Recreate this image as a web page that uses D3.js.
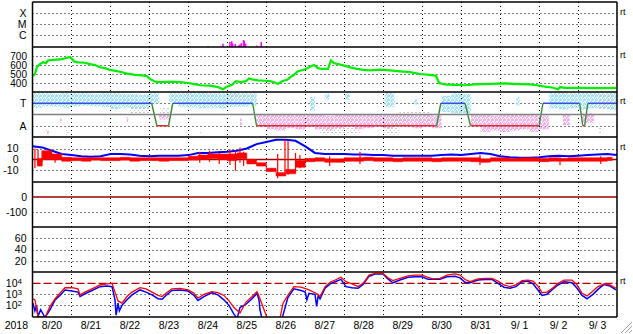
<!DOCTYPE html>
<meta charset="utf-8">
<style>
body { margin: 0; background: #fff; }
text { font-family: "Liberation Sans", Arial, sans-serif; font-size: 10.5px; fill: #000; }
.rt { font-size: 9px; }
.tight text { font-size: 10px; }
</style>
<svg width="633" height="334"></svg>
<script src="https://d3js.org/d3.v7.min.js"></script>
<script>
// ---- data (time in hours since 2018-08-20 00:00) ----
var flareT = [108.1, 117.3, 121.6, 122.7, 123.3, 124.9, 126.9, 127.8, 128.6, 130, 130.4, 131.3, 138.1, 140.9];
var flareV = [8.7e-8, 1.45e-7, 2.1e-7, 2.4e-7, 1.45e-7, 1.35e-7, 1.0e-7, 1.2e-7, 1.6e-7, 3.2e-7, 2.6e-7, 1.45e-7, 9.5e-8, 2.1e-7];

var speedT = [0.3,1.5,2.8,4.6,6.5,8.3,9.5,12,15.1,18.2,21.2,23.1,24.3,25.6,28,32.3,35.4,38.5,41.6,44.7,47.7,52.7,58.2,63.1,67.4,70.5,72.4,75.4,78.5,84.7,90.8,95.8,98.9,103.2,109.3,114.2,117.3,119.8,122.9,125.3,128.4,131.5,133.3,135.2,138.9,143.2,146.3,149.4,151.2,153.7,156.8,159.2,161,163.5,166.6,169,171.5,173.4,175.8,178.3,182,183.8,185.7,188.1,192.5,195.6,199.2,203.6,207.8,214,220.2,226.3,232.5,238.7,244.8,248.5,250.4,254,260.2,266.4,272.5,281.8,291,300.2,306.4,310.7,315.6,319.9,323.7,324.9,328,337.2,349.5,359.4];
var speedV = [478,500,581,610,630,620,650,656,660,665,680,690,670,640,630,625,610,600,575,565,545,530,505,490,485,475,445,415,410,415,410,400,390,375,370,355,330,360,380,420,410,420,450,440,430,425,420,405,390,420,435,470,490,530,545,560,585,600,565,556,556,650,620,611,590,574,560,545,540,548,540,530,520,500,490,480,400,385,380,375,385,390,395,388,385,375,360,350,330,355,345,345,342,345];

// magnetic sector: +1 toward, -1 away
var sectorT = [0, 73.4, 76.6, 83.8, 86.4, 135.6, 138, 248.9, 251.5, 266.4, 269.8, 312, 314.4, 337, 338.9, 340.1, 342, 360];
var sectorV = [1, 1, -1, -1, 1, 1, -1, -1, 1, 1, -1, -1, 1, 1, -1, -1, 1, 1];

// field angle spread per 6-hour bin (degrees)
var phiLo = [235,245,240,235,245,250,245,240,225,235,225,230,270,140,280,240,235,230,235,230,240,240,250,90,
             60,50,70,60,80,60,50,70,80,60,70,80,70,80,90,70,80,70,200,190,190,90,40,50,40,50,60,40,60,230,220,230,220,230,230,220];
var phiHi = [350,350,345,350,350,350,345,350,350,345,345,340,350,178,350,350,350,355,350,350,355,350,350,180,
             178,176,176,180,176,178,170,176,175,178,176,178,176,180,176,175,176,170,330,350,345,175,176,170,176,178,176,175,170,355,355,350,355,355,350,355];
// extra patches: [start hour, end hour, lo, hi]
var phiExtra = [[171,174,210,320],[180,183,300,345],[192.5,195.6,300,345],[217,223,240,355],[235,237,260,300],[298,300,250,320],
                [17,18,110,150],[9,10,15,50],[58,59,120,160],[127.8,129,95,150],[326.7,331,95,175],[338.5,346,110,190]];
var phiGray = [[60,72,170,232],[7,10,20,60],[20,23,20,60],[78.5,84.7,170,232],[121.6,137,300,350],[177,201.7,20,80],
               [217,226,20,190],[226,245,145,205],[269.5,275.6,160,192],[347.7,360,220,350],[349,351,20,80],[103,104,20,55]];

// IMF |B| at 6-hour steps, Bz band per 6-hour bin (nT)
var btV = [12,11,8,5,4,3,2.5,3,5,5,4.5,3.5,3,3.5,3.5,3.5,4,6,6,6.5,7,8,10,14,16,18,18,17,12,6,5,5,5,4.5,4.5,4,4,3.5,3.5,3.5,3.5,3.5,4,4.5,4,5,6,5,3,2,1.5,1.5,2,3,3.5,3,3.5,4,4.5,5,4];
var bzLo = [-6,0,0,-1.5,-1,-1.5,-0.5,-1,-1,-0.5,-1.5,-1,-1,-1.5,-1,-1,-0.5,0,1,0,-1,1,-4,-6,-11,-15,-13,-7,-2,-1.5,
            -2.5,-2.5,-1.5,-1.5,-1,-1.5,-1.5,-2,-1.5,-1.5,-1.5,-2,-1.5,-1.5,-1.5,-2,-2.5,-1.5,-1.5,-1.5,-1.5,-1.5,-2,-1.5,-1.5,-1.5,-1.5,-1.5,-1.5,-1];
var bzHi = [1,8,5,2,1.5,1.5,1.5,1.5,1.5,2,1.5,1.5,1.5,1.5,1.5,1.5,3,4,5,5,5,6,0,-3,-8,-12,-9,-1,1,1.5,
            0.5,0.5,1.5,1.5,2,1.5,1.5,1,1.5,1.5,1.5,1,1.5,1.5,1.5,1.5,0.5,1.5,1.5,1,1.5,1.5,1,1.5,1,1.5,1.5,1.5,1.5,2];
var spikeT  = [1.5,3.4,5.9,13.9,103,109,115,121.6,125,127.8,130,151,155.5,157.4,162,164.7,183,201.7,275.6,324.9,350];
var spikeLo = [-8,-4,-2,-3,-3,-2,-4,-5,-10,-3,-6,-17,-12,-14,-12,-8,-6,-4,-5,-5,-4];
var spikeHi = [10,9,8,4,7,8,6,9,8,11,7,5,18,17,6,4,3,7,4,2,3];

// >2 MeV electron flux, log10
var redT = [0.3,1.5,3.4,7.7,10.8,13.9,16.9,20,24.3,28,29.3,32.3,36.6,41.6,45.9,49,50.8,52.7,55.1,58.2,61.3,66.2,69.9,73.6,77.3,79.8,82.2,85.8,90.8,95.8,99.5,101.9,105.6,110.5,114.2,117.9,121,124.1,127.8,131.5,135.2,138.3,140.1,142.6,144.4,149.4,152.4,154.3,157.3,161,165.4,170.3,174.6,177.1,180.2,183.3,186.4,190,193.1,196.8,200.5,203.6,207.3,211,215.9,218.9,222,226.3,231.3,235.6,239.9,243.6,246.7,251,255.3,260.2,263.3,266.4,269.5,274.4,278.7,283,286.7,290.4,294.1,297.8,301.5,305.2,308.3,311.3,313.8,316.9,320.6,323.7,327.4,332.3,335.4,338.5,341.5,345.2,348.3,352,355.7,359.4];
var redV = [2.6,2.5,1.0,0.9,1.9,2.6,3.1,3.6,3.6,3.5,2.95,3.2,3.5,3.85,3.95,4.0,3.2,2.4,2.2,2.8,3.2,3.6,3.5,3.2,2.9,2.8,3.1,3.5,3.55,3.4,3.1,2.65,3.0,3.25,3.15,2.9,2.4,1.8,1.3,2.3,2.8,3.25,2.6,1.6,0.9,0.5,0.8,2.2,2.9,3.7,3.65,3.4,3.1,2.8,3.7,4.1,4.3,4.55,4.15,3.95,3.7,4.0,4.75,4.9,4.9,4.5,4.25,4.45,4.67,4.75,4.75,4.55,4.4,4.45,4.75,4.85,4.75,4.35,4.15,4.4,4.45,4.45,4.2,3.85,3.7,3.85,4.25,4.3,4.2,3.75,3.15,3.2,3.6,4.0,4.3,4.3,3.85,3.1,2.85,3.3,3.7,3.95,3.85,3.55];
var blueT = [0.3,1.5,2.5,3.4,5,7.7,10.8,13.9,16.9,20,24.3,28,29.3,32.3,36.6,41.6,45.9,49,50.8,51.5,52.7,53.5,55.1,58.2,61.3,66.2,69.9,73.6,77.3,79.8,82.2,85.8,90.8,95.8,99.5,101.9,105.6,110.5,114.2,117.9,121,124.1,126,127.8,131.5,135.2,138.3,139.5,140.1,141.5,150,153.5,155,157.3,161,165.4,168,169,170.3,174,175,176,177.1,180.2,183.3,186.4,190,193.1,196.8,200.5,203.6,207.3,211,215.9,218.9,222,226.3,231.3,235.6,239.9,243.6,246.7,251,255.3,260.2,263.3,266.4,269.5,274.4,278.7,283,286.7,290.4,294.1,297.8,301.5,305.2,308.3,311.3,313.8,316.9,320.6,323.7,327.4,332.3,335.4,338.5,341.5,345.2,348.3,352,355.7,359.4];
var blueV = [2.2,1.5,2.0,1.0,1.6,0.9,1.6,2.5,2.9,3.4,3.3,3.2,2.8,3.05,3.35,3.7,3.75,3.7,2.5,1.1,2.2,1.5,2.0,2.5,2.95,3.4,3.2,2.95,2.6,2.55,2.9,3.35,3.4,3.3,2.9,2.45,2.8,3.15,2.95,2.5,2.0,1.2,0.8,1.8,2.1,2.6,3.1,2.5,1.6,0.7,0.5,0.7,1.5,2.7,3.5,3.35,3.2,2.5,3.1,3.0,1.9,2.9,2.6,3.55,3.95,4.15,4.36,3.7,3.6,3.55,3.9,4.65,4.85,4.85,4.4,4.05,4.3,4.55,4.6,4.6,4.36,4.36,4.36,4.6,4.65,4.5,4.1,4.06,4.3,4.35,4.35,4.0,3.65,3.55,3.7,4.15,4.2,3.95,3.4,2.9,3.0,3.5,3.85,4.15,4.05,3.55,2.9,2.6,3.0,3.45,3.9,3.75,3.4];

var startDate = new Date(2018, 7, 20);
var nDays = 15;

// ---- layout ----
var svg = d3.select("svg");
var x0 = 32.5, x1 = 617;
var tops = [2, 47, 92, 137, 182, 227, 272], ph = 45, bottom = 317;

var x = d3.scaleLinear().domain([0, nDays * 24]).range([x0, x1]);
var yX = d3.scaleLog().domain([7e-8, 1.15e-3]).range([47, 2]);
var ySp = d3.scaleLinear().domain([300, 800]).range([92, 47]);
var yPhi = d3.scaleLinear().domain([0, 360]).range([137, 92]);
var yB = d3.scaleLinear().domain([-20.5, 20.5]).range([182, 137]);
var yDst = d3.scaleLinear().domain([-200, 100]).range([227, 182]);
var yKp = d3.scaleLinear().domain([0, 80]).range([272, 227]);
var yE = d3.scaleLog().domain([Math.pow(10, 0.94), Math.pow(10, 5.03)]).range([317, 272]);

svg.append("rect").attr("width", 633).attr("height", 334).attr("fill", "#fff");

var defs = svg.append("defs");
tops.forEach(function(t, i) {
  defs.append("clipPath").attr("id", "clip" + i)
    .append("rect").attr("x", x0).attr("y", t).attr("width", x1 - x0).attr("height", ph);
});
// speckle textures for the angle scatter
function speck(id, color, cells) {
  var p = defs.append("pattern").attr("id", id).attr("width", 4).attr("height", 4)
    .attr("patternUnits", "userSpaceOnUse");
  cells.forEach(function(r) {
    p.append("rect").attr("x", r[0]).attr("y", r[1]).attr("width", r[2]).attr("height", r[3]).attr("fill", color);
  });
}
var dense = [[0,0,2,1],[2,1,2,1],[0,2,1,2],[3,3,1,1],[1,3,1,1],[3,0,1,1],[2,2,1,1]];
speck("spC", "#a0e2fa", dense);
speck("spP", "#f4aef0", dense);
speck("spG", "#c8c8c8", [[0,0,1,1],[2,2,1,1],[3,0,1,1]]);

function hline(y, color, w, dash) {
  svg.append("line").attr("x1", x0).attr("x2", x1).attr("y1", y).attr("y2", y)
    .attr("stroke", color).attr("stroke-width", w).attr("stroke-dasharray", dash || null);
}

// dotted grid
var grid = svg.append("g").attr("stroke", "#000").attr("stroke-width", 1).attr("stroke-dasharray", "1,3");
d3.range(1, nDays).forEach(function(d) {
  grid.append("line").attr("x1", Math.round(x(d * 24)) + 0.5).attr("x2", Math.round(x(d * 24)) + 0.5)
    .attr("y1", 2).attr("y2", bottom);
});
function hgrid(scale, vals) {
  vals.forEach(function(v) {
    var y = Math.round(scale(v)) + 0.5;
    grid.append("line").attr("x1", x0).attr("x2", x1).attr("y1", y).attr("y2", y);
  });
}
hgrid(yX, [1e-4, 1e-5, 1e-6]);
hgrid(ySp, [400, 500, 600, 700]);
hgrid(yPhi, [270, 90]);
hgrid(yB, [10, -10]);
hgrid(yDst, [-100]);
hgrid(yKp, [20, 40, 60]);
hgrid(yE, [1e3, 1e2]);

// panel 1: X-ray flares
svg.append("g").attr("clip-path", "url(#clip0)").selectAll("rect").data(flareT).join("rect")
  .attr("x", function(t) { return x(t) - 0.75; }).attr("width", 1.5)
  .attr("y", function(t, i) { return yX(flareV[i]); })
  .attr("height", function(t, i) { return 47 - yX(flareV[i]); })
  .attr("fill", "#ff00ff");

// panel 2: solar wind speed
svg.append("path").attr("clip-path", "url(#clip1)")
  .datum(speedT.map(function(t, i) { return [t, speedV[i]]; }))
  .attr("fill", "none").attr("stroke", "#00ee00").attr("stroke-width", 2.2)
  .attr("d", d3.line().x(function(d) { return x(d[0]); }).y(function(d) { return ySp(d[1]); }));

// panel 3: sector / field angle
var g3 = svg.append("g").attr("clip-path", "url(#clip2)");
phiLo.forEach(function(lo, i) {
  var hi = phiHi[i], xa = x(i * 6), xb = x(i * 6 + 6);
  if (hi > 180) g3.append("rect").attr("x", xa).attr("width", xb - xa)
    .attr("y", yPhi(hi)).attr("height", yPhi(Math.max(lo, 180)) - yPhi(hi)).attr("fill", "url(#spC)");
  if (lo < 180) g3.append("rect").attr("x", xa).attr("width", xb - xa)
    .attr("y", yPhi(Math.min(hi, 180))).attr("height", yPhi(lo) - yPhi(Math.min(hi, 180))).attr("fill", "url(#spP)");
});
phiExtra.forEach(function(p) {
  g3.append("rect").attr("x", x(p[0])).attr("width", x(p[1]) - x(p[0]))
    .attr("y", yPhi(p[3])).attr("height", yPhi(p[2]) - yPhi(p[3]))
    .attr("fill", p[2] >= 180 || p[3] > 200 ? "url(#spC)" : "url(#spP)");
});
phiGray.forEach(function(p) {
  g3.append("rect").attr("x", x(p[0])).attr("width", x(p[1]) - x(p[0]))
    .attr("y", yPhi(p[3])).attr("height", yPhi(p[2]) - yPhi(p[3])).attr("fill", "url(#spG)");
});
hline(yPhi(180), "#808080", 1.5);
var secY = function(v) { return yPhi(v > 0 ? 270 : 90); };
for (var i = 0; i < sectorT.length - 1; i++) {
  var a = sectorV[i], b = sectorV[i + 1];
  g3.append("line").attr("x1", x(sectorT[i])).attr("x2", x(sectorT[i + 1]))
    .attr("y1", secY(a)).attr("y2", secY(b))
    .attr("stroke", a !== b ? "#3a8a3a" : (a > 0 ? "#3a4ee0" : "#d83030"))
    .attr("stroke-width", 1.4);
}

// panel 4: IMF Bt and Bz
hline(yB(0), "#a00000", 1.3);
var g4 = svg.append("g").attr("clip-path", "url(#clip3)");
g4.append("path").datum(btV)
  .attr("fill", "none").attr("stroke", "#0000ff").attr("stroke-width", 2)
  .attr("d", d3.line().x(function(v, i) { return x(i * 6); }).y(function(v) { return yB(v); }));
g4.append("path").datum(bzLo)
  .attr("fill", "#ff0000").attr("stroke", "#ff0000").attr("stroke-width", 0.6)
  .attr("d", d3.area().curve(d3.curveStep)
    .x(function(v, i) { return x(i * 6 + 3); })
    .y0(function(v) { return yB(v); })
    .y1(function(v, i) { return yB(bzHi[i]); }));
g4.selectAll("line.sp").data(spikeT).join("line")
  .attr("x1", function(t) { return x(t); }).attr("x2", function(t) { return x(t); })
  .attr("y1", function(t, i) { return yB(spikeHi[i]); })
  .attr("y2", function(t, i) { return yB(spikeLo[i]); })
  .attr("stroke", "#ff0000").attr("stroke-width", 1.2);

// panel 5: Dst zero line
hline(yDst(0), "#a00000", 1.3);

// panel 7: electron flux
hline(yE(1e4), "#b00000", 1.3, "8,3");
var g7 = svg.append("g").attr("clip-path", "url(#clip6)");
var eLine = d3.line().x(function(d) { return x(d[0]); }).y(function(d) { return yE(Math.pow(10, d[1])); });
g7.append("path").datum(blueT.map(function(t, i) { return [t, blueV[i]]; }))
  .attr("fill", "none").attr("stroke", "#0000ff").attr("stroke-width", 1.5).attr("d", eLine);
g7.append("path").datum(redT.map(function(t, i) { return [t, redV[i]]; }))
  .attr("fill", "none").attr("stroke", "#ff0000").attr("stroke-width", 1.3).attr("d", eLine);

// frame
var frame = svg.append("g").attr("stroke", "#000").attr("stroke-width", 1.5);
tops.concat([bottom]).forEach(function(t) {
  frame.append("line").attr("x1", x0).attr("x2", x1).attr("y1", t).attr("y2", t);
});
frame.append("line").attr("x1", x0).attr("x2", x0).attr("y1", 2).attr("y2", bottom);
frame.append("line").attr("x1", x1).attr("x2", x1).attr("y1", 2).attr("y2", bottom);

// y axes
function yAxis(scale, vals, fmt, pad) {
  var g = svg.append("g").attr("transform", "translate(" + x0 + ",0)")
    .call(d3.axisLeft(scale).tickValues(vals).tickFormat(fmt).tickSize(0).tickPadding(pad));
  g.select(".domain").remove();
  return g;
}
yAxis(yX, [1e-4, 1e-5, 1e-6], function(d) { return ["X", "M", "C"][[1e-4, 1e-5, 1e-6].indexOf(d)]; }, 6);
yAxis(ySp, [400, 500, 600, 700], String, 5.5).attr("class", "tight");
yAxis(yPhi, [270, 90], function(d) { return d > 180 ? "T" : "A"; }, 6);
yAxis(yB, [10, 0, -10], String, 14);
yAxis(yDst, [0, -100], String, 5.5);
yAxis(yKp, [20, 40, 60], String, 6);
yAxis(yE, [1e4, 1e3, 1e2], function() { return ""; }, 10.5)
  .selectAll(".tick text").each(function(d) {
    var t = d3.select(this);
    t.append("tspan").text("10");
    t.append("tspan").attr("dy", "-0.45em").style("font-size", "8px")
      .text(Math.round(Math.log10(d)));
  });

// right-side markers
[14.5, 58, 104, 149.5, 284].forEach(function(y) {
  svg.append("text").attr("class", "rt").attr("x", 620).attr("y", y).text("rt");
});

// date labels
svg.append("text").attr("x", 28).attr("y", 328.5).attr("text-anchor", "end").text("2018");
d3.range(nDays).forEach(function(d) {
  var dt = d3.timeDay.offset(startDate, d);
  var day = dt.getDate();
  svg.append("text").attr("x", x(d * 24 + 12)).attr("y", 328.5).attr("text-anchor", "middle")
    .text((dt.getMonth() + 1) + "/" + (day < 10 ? " " + day : day));
});

// resize grip
[[621, 333, 632, 322], [625, 333, 632, 326], [629, 333, 632, 330]].forEach(function(l) {
  svg.append("line").attr("x1", l[0]).attr("y1", l[1]).attr("x2", l[2]).attr("y2", l[3])
    .attr("stroke", "#a0a0a0").attr("stroke-width", 1);
});
</script>
